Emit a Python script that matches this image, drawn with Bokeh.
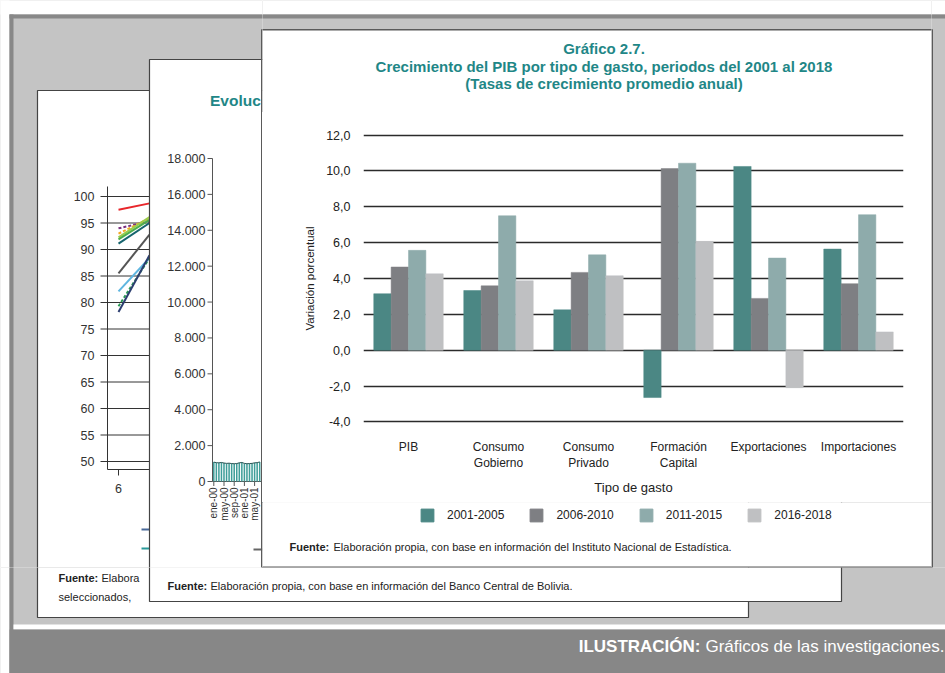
import math
from bokeh.plotting import figure
from bokeh.layouts import column, row
from bokeh.models import Range1d, FixedTicker, ColumnDataSource, Legend, LegendItem
from bokeh.embed import file_html
from bokeh.resources import INLINE
from bokeh.core.properties import value

# ---------------- main chart data ----------------
categories = ["PIB", "Consumo\nGobierno", "Consumo\nPrivado", "Formación\nCapital",
              "Exportaciones", "Importaciones"]
periods = ["2001-2005", "2006-2010", "2011-2015", "2016-2018"]
g_2001_2005 = [3.15, 3.33, 2.25, -2.64, 10.25, 5.64]
g_2006_2010 = [4.64, 3.59, 4.34, 10.13, 2.89, 3.71]
g_2011_2015 = [5.57, 7.50, 5.32, 10.43, 5.14, 7.56]
g_2016_2018 = [4.26, 3.87, 4.15, 6.07, -2.09, 1.02]
y_ticks = [-4, -2, 0, 2, 4, 6, 8, 10, 12]
y_tick_labels = ["-4,0", "-2,0", "0,0", "2,0", "4,0", "6,0", "8,0", "10,0", "12,0"]

# ---------------- background page (line chart fragment) ----------------
bg3_ticks = [100, 95, 90, 85, 80, 75, 70, 65, 60, 55, 50]
bg3_first = [97.5, 94.0, 93.0, 92.3, 91.9, 91.1, 85.5, 82.1, 79.3, 78.2]
bg3_edge = [98.7, 95.3, 95.9, 96.1, 95.6, 95.0, 92.8, 88.4, 88.4, 88.9]
bg3_xtick = "6"

# ---------------- background page (monthly bars fragment) ----------------
bg2_ticks = [0, 2000, 4000, 6000, 8000, 10000, 12000, 14000, 16000, 18000]
bg2_tick_labels = ["0", "2.000", "4.000", "6.000", "8.000", "10.000", "12.000",
                   "14.000", "16.000", "18.000"]
bg2_values = [1080, 1050, 1040, 1060, 1030, 1010, 1020, 1000, 990, 1000,
              1040, 1060, 1010, 990, 1000, 1010, 1040, 1050, 1090]
bg2_month_labels = ["ene-00", "may-00", "sep-00", "ene-01", "may-01"]

# ---------------- layout (pixel coordinates of the picture) ----------------
W, H = 945, 673
FPX0, FPX1 = 262, 931          # front page columns
SPLIT_Y = 567                  # bottom strip starts here
CH_Y0, CH_Y1 = 112, 502        # bar-chart figure rows
FR_L, FR_R, FR_T, FR_B = 363, 903, 131, 425      # bar chart frame

TEAL = "#1f8787"
BAR_COLORS = ["#4b8784", "#7e7f83", "#8eabab", "#bfc0c2"]
TXT = "#222222"
FONT = "Liberation Sans"
BG = "#c4c4c4"
DARK = "#888888"
BOUNDS = {}


def lin_range(p0, v0, p1, v1, lo, hi):
    k = (v1 - v0) / (p1 - p0)
    return Range1d(start=v0 + (lo - p0) * k, end=v0 + (hi - p0) * k)


def canvas_fig(x0, x1, y0, y1):
    f = figure(width=x1 - x0, height=y1 - y0, x_range=Range1d(x0, x1),
               y_range=Range1d(y1, y0), min_border=0, title=None,
               x_axis_location=None, y_axis_location=None,
               toolbar_location=None, tools="", output_backend="svg",
               outline_line_color=None, background_fill_color=BG,
               border_fill_color=BG, frame_align=False)
    f.grid.visible = False
    f.extra_y_ranges = {"b3": lin_range(196, 100, 461, 50, y1, y0),
                        "b2": lin_range(481, 0, 158, 18000, y1, y0)}
    f.extra_x_ranges = {"b2x": lin_range(213.3, 0, 254.1, 16, x0, x1)}
    BOUNDS[f.id] = (x0, x1, y0, y1)
    return f


def txt(f, x, y, text, size, color=TXT, bold=False, align="left", angle=0.0,
        xr="default", yr="default", at=None):
    if at is not None:
        x0, x1, y0, y1 = BOUNDS[f.id]
        if not (x0 <= at[0] < x1 and y0 <= at[1] < y1):
            return
    f.text(x=x, y=y, text=text, text_font=value(FONT), text_font_size=f"{size}px",
           text_color=color, text_font_style="bold" if bold else "normal",
           text_align=align, text_baseline="middle", angle=angle,
           x_range_name=xr, y_range_name=yr)


def decor(f):
    # white page margins, grey backdrop and frame
    f.quad(left=[-5, -5], right=[950, 9], top=[-5, -5], bottom=[14, 680],
           fill_color="white", line_color=None)
    f.quad(left=[9], right=[950], top=[14], bottom=[629], fill_color=BG, line_color=None)
    f.quad(left=[9, 9], right=[950, 13], top=[14, 14], bottom=[18, 680],
           fill_color=DARK, line_color=None)
    f.quad(left=[13], right=[950], top=[624], bottom=[629], fill_color="white", line_color=None)
    f.quad(left=[9], right=[950], top=[629], bottom=[680], fill_color="#878787", line_color=None)

    # ---- back page: line chart fragment ----
    f.quad(left=[37], right=[748], top=[90], bottom=[617], fill_color="white",
           line_color="#444444", line_width=1.2)
    f.segment(x0=[100] * len(bg3_ticks), y0=bg3_ticks, x1=[149] * len(bg3_ticks),
              y1=bg3_ticks, line_color="#333333", line_width=1, y_range_name="b3")
    txt(f, [94] * len(bg3_ticks), bg3_ticks, [str(v) for v in bg3_ticks], 12.5,
        color="#333333", align="right", yr="b3", at=(94, 300))
    f.segment(x0=[107, 107, 118], y0=[186, 469, 469], x1=[107, 149, 118],
              y1=[469, 469, 475], line_color="#333333", line_width=1)
    txt(f, [118], [488], [bg3_xtick], 12.5, color="#333333", align="center", at=(118, 488))
    styles = [("#e8262b", "solid"), ("#7a2f7f", "dashed"), ("#f5a623", "dashed"),
              ("#9ccc4a", "solid"), ("#4cae4c", "solid"), ("#16646e", "solid"),
              ("#555555", "solid"), ("#5fb6e0", "solid"), ("#2a9a55", "dashed"),
              ("#2c3e70", "solid")]
    for a, b, (c, d) in zip(bg3_first, bg3_edge, styles):
        f.segment(x0=[118], y0=[a], x1=[149], y1=[b], line_color=c, line_width=2,
                  line_dash="3 2" if d == "dashed" else "solid", y_range_name="b3")
    f.segment(x0=[141, 141], y0=[529, 548], x1=[149, 149], y1=[529, 548],
              line_color=["#4a6a9a", "#2a9a9a"], line_width=2)
    txt(f, [58], [577], ["Fuente:"], 11, bold=True, at=(58, 577))
    txt(f, [101], [577], ["Elabora"], 11, at=(101, 577))
    txt(f, [58], [596], ["seleccionados,"], 11, at=(58, 596))

    # ---- middle page: monthly bars fragment ----
    f.quad(left=[149], right=[841], top=[59], bottom=[601], fill_color="white",
           line_color="#444444", line_width=1.2)
    txt(f, [209.5], [100], ["Evoluc"], 15.5, color=TEAL, bold=True, at=(209, 100))
    txt(f, [205] * len(bg2_ticks), bg2_ticks, bg2_tick_labels, 12.5, color="#333333",
        align="right", yr="b2", at=(205, 300))
    f.segment(x0=[207] * len(bg2_ticks), y0=bg2_ticks, x1=[212] * len(bg2_ticks),
              y1=bg2_ticks, line_color="#555555", line_width=1, y_range_name="b2")
    f.segment(x0=[212, 212], y0=[0, 0], x1=[212, 261], y1=[18000, 0],
              line_color="#555555", line_width=1, y_range_name="b2")
    idx = list(range(len(bg2_values)))
    f.quad(left=[k - 0.3 for k in idx], right=[k + 0.3 for k in idx], top=bg2_values,
           bottom=[0] * len(idx), fill_color="#3f9e99", line_color=None,
           x_range_name="b2x", y_range_name="b2")
    f.line(x=idx, y=bg2_values, line_color="#2a5555", line_width=1,
           x_range_name="b2x", y_range_name="b2")
    mpos = [4 * j for j in range(len(bg2_month_labels))]
    f.segment(x0=mpos, y0=[0] * len(mpos), x1=mpos, y1=[-250] * len(mpos),
              line_color="#555555", line_width=1, x_range_name="b2x", y_range_name="b2")
    txt(f, mpos, [-330] * len(mpos), bg2_month_labels, 10, color="#333333",
        align="right", angle=math.pi / 2, xr="b2x", yr="b2", at=(230, 500))
    f.segment(x0=[253], y0=[549], x1=[262], y1=[549], line_color="#666666", line_width=2)
    txt(f, [167], [585], ["Fuente:"], 11, bold=True, at=(167, 585))
    txt(f, [210], [585],
        ["Elaboración propia, con base en información del Banco Central de Bolivia."], 11,
        at=(210, 585))

    # ---- front page ----
    f.quad(left=[261.25], right=[931.75], top=[29.25], bottom=[566.75],
           fill_color="white", line_color="#5a5a5a", line_width=1.5)

    # ---- banner ----
    txt(f, [700], [646], ["ILUSTRACIÓN:"], 17, color="white", bold=True, align="right",
        at=(700, 646))
    txt(f, [944], [646], ["Gráficos de las investigaciones."], 17, color="white",
        align="right", at=(900, 646))


# ---------------- illustration pieces ----------------
left_f = canvas_fig(0, FPX0, 0, SPLIT_Y)
right_f = canvas_fig(FPX1, W, 0, SPLIT_Y)
bottom_f = canvas_fig(0, W, SPLIT_Y, H)
top_c = canvas_fig(FPX0, FPX1, 0, CH_Y0)
bot_c = canvas_fig(FPX0, FPX1, CH_Y1, SPLIT_Y)
for f in (left_f, right_f, bottom_f, top_c, bot_c):
    decor(f)

# ---------------- title block ----------------
txt(top_c, [603.5] * 3, [48, 66, 83],
    ["Gráfico 2.7.", "Crecimiento del PIB por tipo de gasto, periodos del 2001 al 2018",
     "(Tasas de crecimiento promedio anual)"], 15, color=TEAL, bold=True, align="center")

# ---------------- bar chart ----------------
p = figure(width=FPX1 - FPX0, height=CH_Y1 - CH_Y0,
           min_border_left=FR_L - FPX0, min_border_right=FPX1 - FR_R,
           min_border_top=FR_T - CH_Y0, min_border_bottom=CH_Y1 - FR_B,
           x_range=Range1d(-0.5, 5.5), y_range=Range1d(-4.2, 12.2), title=None,
           output_backend="svg", toolbar_location=None, tools="",
           background_fill_color="white", border_fill_color="white",
           outline_line_color=None, frame_align=False)
p.xgrid.visible = False
p.ygrid.grid_line_color = "#2b2b2b"
p.ygrid.grid_line_width = 1.5
p.yaxis.ticker = FixedTicker(ticks=y_ticks)
p.yaxis.major_label_overrides = dict(zip(y_ticks, y_tick_labels))
p.xaxis.ticker = FixedTicker(ticks=list(range(len(categories))))
p.xaxis.major_label_overrides = {i: c for i, c in enumerate(categories)}
for ax in (p.xaxis, p.yaxis):
    ax.axis_line_color = None
    ax.major_tick_line_color = None
    ax.minor_tick_line_color = None
    ax.major_label_text_font = FONT
    ax.major_label_text_color = TXT
    ax.axis_label_text_font = FONT
    ax.axis_label_text_color = TXT
    ax.axis_label_text_font_style = "normal"
p.yaxis.major_label_text_font_size = "12.5px"
p.yaxis.major_label_standoff = 7
p.yaxis.axis_label = "Variación porcentual"
p.yaxis.axis_label_text_font_size = "11.5px"
p.yaxis.axis_label_standoff = 7
p.xaxis.major_label_text_font_size = "12px"
p.xaxis.major_label_text_line_height = 1.2
p.xaxis.major_label_standoff = 8
p.xaxis.axis_label = "Tipo de gasto"
p.xaxis.axis_label_text_font_size = "13px"
p.xaxis.axis_label_standoff = 7

series = [g_2001_2005, g_2006_2010, g_2011_2015, g_2016_2018]
offsets = [-0.2895, -0.0965, 0.0965, 0.2895]
for k, vals in enumerate(series):
    src = ColumnDataSource(dict(x=[i + offsets[k] for i in range(len(categories))], top=vals))
    p.vbar(x="x", top="top", bottom=0, width=0.193, source=src,
           fill_color=BAR_COLORS[k], line_color=BAR_COLORS[k], line_width=0.5)

# ---------------- legend + source note ----------------
items = []
for k, name in enumerate(periods):
    r = bot_c.vbar(x=[-10000], top=[1], bottom=[0], width=1, fill_color=BAR_COLORS[k],
                   line_color=BAR_COLORS[k])
    items.append(LegendItem(label=name, renderers=[r]))
legend = Legend(items=items, orientation="horizontal", location=(419 - FPX0, SPLIT_Y - 523),
                glyph_width=16, glyph_height=16, label_height=16, label_standoff=12,
                spacing=24, padding=0, margin=0, border_line_color=None,
                background_fill_alpha=0, label_text_font=FONT,
                label_text_font_size="12px", label_text_color=TXT)
bot_c.add_layout(legend)
txt(bot_c, [289], [546], ["Fuente:"], 11, bold=True)
txt(bot_c, [333], [546],
    ["Elaboración propia, con base en información del Instituto Nacional de Estadística."], 11)

layout = column(
    row(left_f, column(top_c, column(p), bot_c), right_f),
    bottom_f,
)
open("out.html", "w").write(file_html(layout, INLINE))
